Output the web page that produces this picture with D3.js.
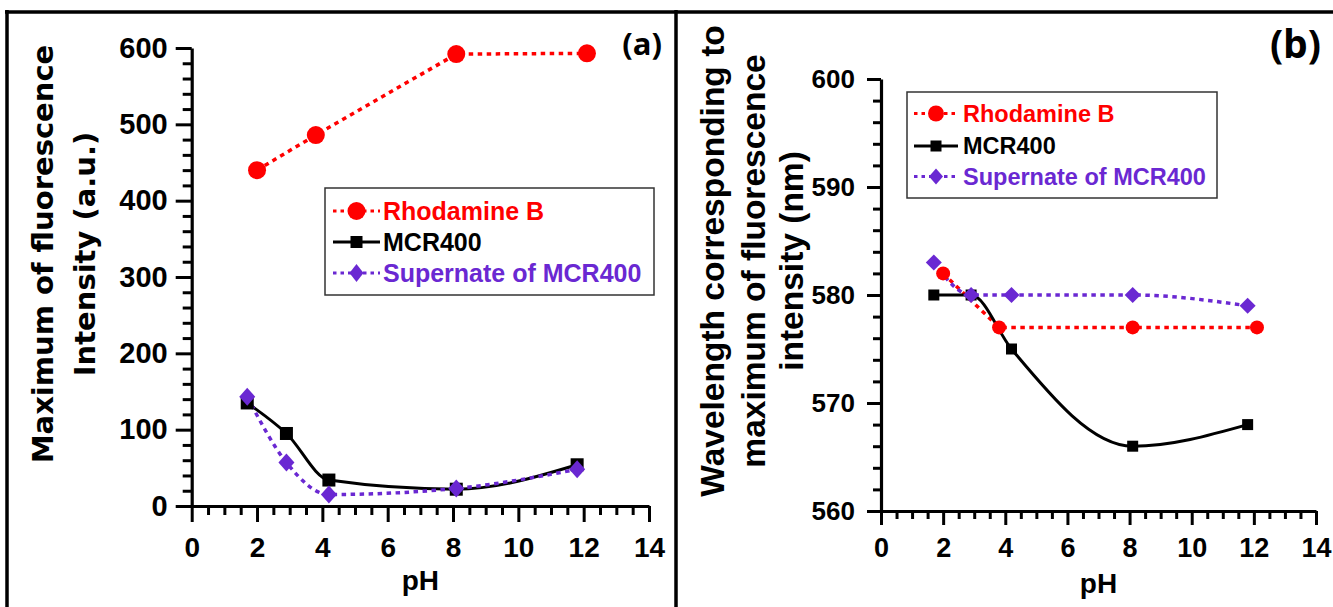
<!DOCTYPE html>
<html><head><meta charset="utf-8">
<script src="https://cdn.jsdelivr.net/npm/d3@7"></script>
<style>
body{margin:0;background:#fff;}
svg{display:block;}
text{font-family:"Liberation Sans",Arial,sans-serif;font-weight:bold;}
</style>
</head><body>
<svg id="c" width="1333" height="607"></svg>
<script>
// ---- data ----
const seriesNames = ["Rhodamine B", "MCR400", "Supernate of MCR400"];
const rhodaminePH = [2.0, 3.8, 8.1, 12.1];
const rhodamineIntensity = [440, 486, 592, 593];
const rhodamineWavelength = [582, 577, 577, 577];
const mcrPH = [1.7, 2.9, 4.2, 8.1, 11.8];
const mcrIntensity = [135, 95, 34, 22, 54];
const mcrWavelength = [580, 580, 575, 566, 568];
const supernatePH = [1.7, 2.9, 4.2, 8.1, 11.8];
const supernateIntensity = [143, 57, 15, 23, 48];
const supernateWavelength = [583, 580, 580, 580, 579];
const xTickValues = [0, 2, 4, 6, 8, 10, 12, 14];
const yTickValuesA = [0, 100, 200, 300, 400, 500, 600];
const yTickValuesB = [560, 570, 580, 590, 600];
const titleLinesA = ["Maximum of fluorescence", "Intensity (a.u.)"];
const titleLinesB = ["Wavelength corresponding to", "maximum of fluorescence", "intensity (nm)"];

const RED = "#ff0000", BLACK = "#000000", PURPLE = "#6a28d2";
const svg = d3.select("#c");

// frame lines
svg.append("line").attr("x1", 5).attr("x2", 1333).attr("y1", 12).attr("y2", 12).attr("stroke", "#000").attr("stroke-width", 3.5);
svg.append("line").attr("x1", 7).attr("x2", 7).attr("y1", 10).attr("y2", 607).attr("stroke", "#000").attr("stroke-width", 3.5);
svg.append("line").attr("x1", 676).attr("x2", 676).attr("y1", 10).attr("y2", 607).attr("stroke", "#000").attr("stroke-width", 3.5);

function drawPanel(cfg) {
  const x = d3.scaleLinear().domain([0, 14]).range(cfg.xRange);
  const y = d3.scaleLinear().domain(cfg.yDomain).range(cfg.yRange);
  const g = svg.append("g");

  // minor ticks
  const xMinor = d3.range(0, 14.001, 0.5).filter(v => Math.abs(v % 2) > 1e-6);
  const yMinor = d3.range(cfg.yDomain[0], cfg.yDomain[1] + 1e-6, cfg.yMinorStep)
    .filter(v => !cfg.yTicks.some(t => Math.abs(t - v) < 1e-6));
  g.append("g").attr("transform", `translate(0,${cfg.yRange[0]})`)
    .call(d3.axisBottom(x).tickValues(xMinor).tickSize(cfg.minor).tickSizeOuter(0).tickFormat(""))
    .call(a => a.select(".domain").remove())
    .selectAll("line").attr("stroke-width", 3);
  g.append("g").attr("transform", `translate(${cfg.xRange[0]},0)`)
    .call(d3.axisLeft(y).tickValues(yMinor).tickSize(cfg.minor).tickSizeOuter(0).tickFormat(""))
    .call(a => a.select(".domain").remove())
    .selectAll("line").attr("stroke-width", 3);

  // major axes
  const xa = g.append("g").attr("transform", `translate(0,${cfg.yRange[0]})`)
    .call(d3.axisBottom(x).tickValues(xTickValues).tickSize(cfg.major).tickSizeOuter(0).tickPadding(cfg.xPad).tickFormat(d3.format("d")));
  const ya = g.append("g").attr("transform", `translate(${cfg.xRange[0]},0)`)
    .call(d3.axisLeft(y).tickValues(cfg.yTicks).tickSize(cfg.major).tickSizeOuter(0).tickPadding(cfg.yPad).tickFormat(d3.format("d")));
  [xa, ya].forEach(a => {
    a.select(".domain").attr("stroke-width", 3.2);
    a.selectAll(".tick line").attr("stroke-width", 3);
    a.selectAll("text").attr("fill", "#000").style("font-family", '"Liberation Sans",Arial,sans-serif').style("font-weight", "bold");
  });
  xa.selectAll("text").style("font-size", cfg.xFont + "px");
  ya.selectAll("text").style("font-size", cfg.yFont + "px");

  // x title
  g.append("text").attr("x", (cfg.xRange[0] + cfg.xRange[1]) / 2).attr("y", cfg.phY)
    .attr("text-anchor", "middle").style("font-size", "28px").text("pH");

  // y titles
  cfg.titleLines.forEach((t, i) => {
    g.append("text").attr("transform", `translate(${cfg.titleX[i]},${cfg.titleCY}) rotate(-90)`)
      .attr("text-anchor", "middle").style("font-family", cfg.titleFamily)
      .style("font-size", cfg.titleFont + "px").text(t);
  });

  // panel label
  g.append("text").attr("x", cfg.label.x).attr("y", cfg.label.y).attr("text-anchor", "end")
    .style("font-family", '"Open Sans",sans-serif').style("font-weight", "bold")
    .style("font-size", cfg.label.size + "px").text(cfg.label.text);

  const dash = "4.5,4.5";
  const lineR = d3.line().x(d => x(d[0])).y(d => y(d[1]));
  const lineS = d3.line().x(d => x(d[0])).y(d => y(d[1])).curve(d3.curveMonotoneX);

  const red = rhodaminePH.map((p, i) => [p, cfg.rVals[i]]);
  const blk = mcrPH.map((p, i) => [p, cfg.mVals[i]]);
  const pur = supernatePH.map((p, i) => [p, cfg.sVals[i]]);

  g.append("path").datum(red).attr("d", lineR).attr("fill", "none").attr("stroke", RED).attr("stroke-width", 3.5).attr("stroke-dasharray", dash);
  g.append("path").datum(blk).attr("d", lineS).attr("fill", "none").attr("stroke", BLACK).attr("stroke-width", 3);
  g.append("path").datum(pur).attr("d", lineS).attr("fill", "none").attr("stroke", PURPLE).attr("stroke-width", 3.5).attr("stroke-dasharray", dash);

  const ms = cfg.marker;
  function circ(sel, cx, cy, r) { sel.append("circle").attr("cx", cx).attr("cy", cy).attr("r", r).attr("fill", RED); }
  function sq(sel, cx, cy, s) { sel.append("rect").attr("x", cx - s / 2).attr("y", cy - s / 2).attr("width", s).attr("height", s).attr("fill", BLACK); }
  function dia(sel, cx, cy, w, h) { sel.append("path").attr("d", `M${cx},${cy - h}L${cx + w},${cy}L${cx},${cy + h}L${cx - w},${cy}Z`).attr("fill", PURPLE); }
  red.forEach(d => circ(g, x(d[0]), y(d[1]), ms.r));
  blk.forEach(d => sq(g, x(d[0]), y(d[1]), ms.s));
  pur.forEach(d => dia(g, x(d[0]), y(d[1]), ms.dw, ms.dh));

  // legend
  const L = cfg.legend;
  g.append("rect").attr("x", L.x).attr("y", L.y).attr("width", L.w).attr("height", L.h)
    .attr("fill", "#fff").attr("stroke", "#333").attr("stroke-width", 1.5);
  const colors = [RED, BLACK, PURPLE];
  seriesNames.forEach((name, i) => {
    const cy = L.rows[i];
    const ln = g.append("line").attr("x1", L.sx0).attr("x2", L.sx1).attr("y1", cy).attr("y2", cy)
      .attr("stroke", colors[i]).attr("stroke-width", 3.2);
    if (i !== 1) ln.attr("stroke-dasharray", "3.5,4");
    const mx = (L.sx0 + L.sx1) / 2;
    if (i === 0) circ(g, mx, cy, L.r);
    if (i === 1) sq(g, mx, cy, L.s);
    if (i === 2) dia(g, mx, cy, L.dw, L.dh);
    g.append("text").attr("x", L.tx).attr("y", cy + L.font * 0.36).attr("fill", colors[i])
      .style("font-size", L.font + "px").text(name);
  });
}

drawPanel({
  xRange: [191.7, 649], yRange: [506, 48], yDomain: [0, 600], yTicks: yTickValuesA, yMinorStep: 20,
  major: 16, minor: 9, xPad: 15, yPad: 8, xFont: 28, yFont: 29, phY: 590,
  titleLines: titleLinesA, titleX: [53, 95], titleCY: 254, titleFont: 29, titleFamily: '"DejaVu Sans",sans-serif',
  label: { x: 662, y: 55, size: 31, text: "(a)" },
  rVals: rhodamineIntensity, mVals: mcrIntensity, sVals: supernateIntensity,
  marker: { r: 9, s: 13, dw: 8, dh: 9 },
  legend: { x: 325, y: 188, w: 329, h: 107, rows: [211, 242, 273], sx0: 333, sx1: 380, tx: 383, font: 25, r: 9, s: 12, dw: 7, dh: 9 }
});

drawPanel({
  xRange: [881, 1316], yRange: [511, 79], yDomain: [560, 600], yTicks: yTickValuesB, yMinorStep: 2,
  major: 14, minor: 8, xPad: 13, yPad: 12, xFont: 27, yFont: 26, phY: 593,
  titleLines: titleLinesB, titleX: [724, 765, 803], titleCY: 261, titleFont: 33.5, titleFamily: '"Liberation Sans",Arial,sans-serif',
  label: { x: 1321, y: 58, size: 39, text: "(b)" },
  rVals: rhodamineWavelength, mVals: mcrWavelength, sVals: supernateWavelength,
  marker: { r: 7, s: 11, dw: 8, dh: 8 },
  legend: { x: 907, y: 92, w: 310, h: 106, rows: [113.5, 146, 176.5], sx0: 914, sx1: 958, tx: 963, font: 23.5, r: 8, s: 11, dw: 7, dh: 8 }
});
</script>
</body></html>
